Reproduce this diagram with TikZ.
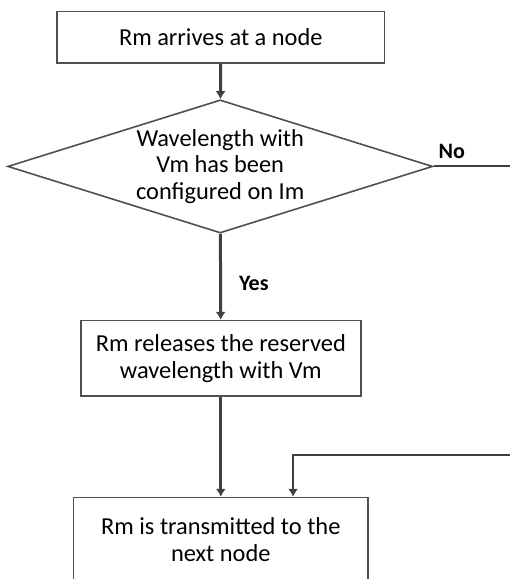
\documentclass[tikz,border=0pt]{standalone}
\usepackage{fontspec}
\setmainfont{Carlito}
\usetikzlibrary{shapes.geometric,arrows.meta}
\definecolor{linegray}{HTML}{404040}
\definecolor{boxgray}{HTML}{505050}
\begin{document}
\begin{tikzpicture}[
		procbox/.style={draw=boxgray, line width=0.8pt, fill=white, align=center, font=\fontsize{12.2}{13.5}\selectfont},
		decision/.style={draw=boxgray, line width=0.8pt, diamond, aspect=3.2, inner sep=0pt, align=center, font=\fontsize{12.2}{13.2}\selectfont},
		flow/.style={draw=linegray, line width=1.5pt, -{Latex[length=4pt,width=5pt]}},
		lbl/.style={font=\fontsize{11}{13}\selectfont\bfseries}
	]
			\useasboundingbox (0,0) rectangle (8.962,10.175);
			\clip (0,0) rectangle (8.962,10.175);
			\node[procbox, minimum width=5.76cm, minimum height=0.9cm] (arrive) at (3.88,9.52) {Rm arrives at a node};
			\node[decision, minimum width=7.47cm, minimum height=2.34cm] (check) at (3.87,7.25) {Wavelength with\\Vm has been\\configured on Im};
			\node[procbox, minimum width=4.92cm, minimum height=1.32cm] (release) at (3.88,3.88) {Rm releases the reserved\\wavelength with Vm};
			\node[procbox, minimum width=5.18cm, minimum height=1.48cm] (send) at (3.88,0.69) {Rm is transmitted to the\\next node};
			\coordinate (noend) at (8.962,7.25);
			\coordinate (back) at (8.962,2.18);
			\coordinate (bend) at (5.15,2.18);
			\draw[flow] (arrive) -- (check);
			\draw[flow] (check) -- (release);
			\draw[flow] (release) -- (send);
			\draw[draw=linegray, line width=1pt] (check.east) -- (noend);
			\draw[flow, line width=1pt] (back) -- (bend) -- (bend |- send.north);
			\node[lbl] (no) at (7.94,7.52) {No};
			\node[lbl] (yes) at (4.46,5.20) {Yes};
		\end{tikzpicture}
\end{document}
